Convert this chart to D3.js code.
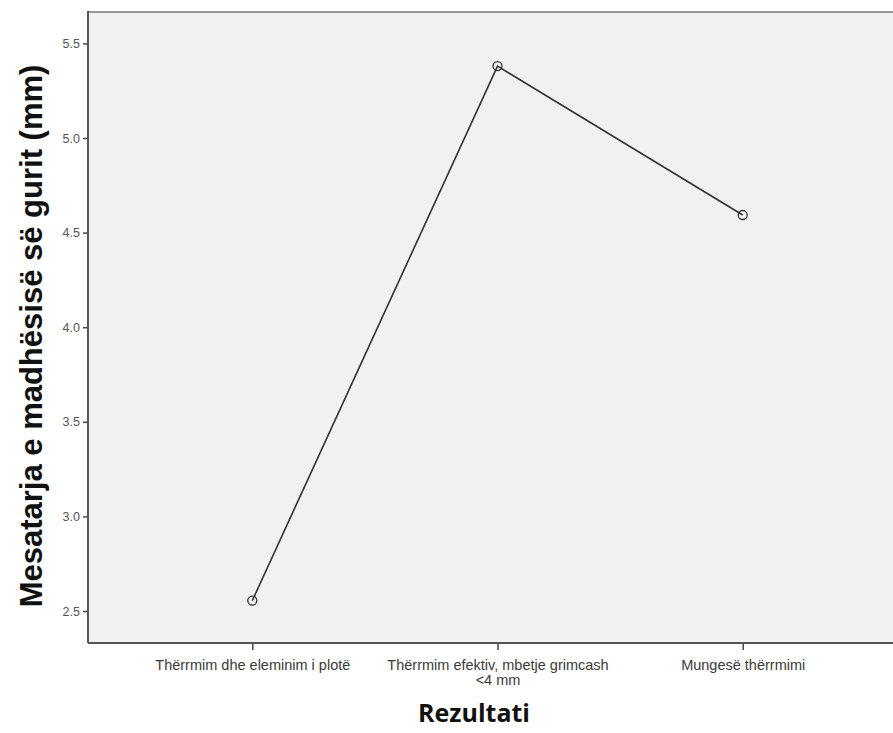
<!DOCTYPE html>
<html>
<head>
<meta charset="utf-8">
<script src="https://cdn.jsdelivr.net/npm/d3@7"></script>
<style>
  body { margin: 0; background: #fff; }
  svg { display: block; }
  .tick text { font-family: "Liberation Sans", Arial, sans-serif; }
</style>
</head>
<body>
<div id="chartContainer"></div>
<script>
const categories = [
    ['Thërrmim dhe eleminim i plotë'],
    ['Thërrmim efektiv, mbetje grimcash', '<4 mm'],
    ['Mungesë thërrmimi']
];
const meanValues = [2.555, 5.38, 4.593];
const yTicks = [2.5, 3.0, 3.5, 4.0, 4.5, 5.0, 5.5];

const svgWidth = 893;
const svgHeight = 733;
const plot = { left: 88, top: 12, right: 907, bottom: 643 };

const svg = d3.select('#chartContainer')
    .append('svg')
    .attr('width', svgWidth)
    .attr('height', svgHeight);

const labels = categories.map(d => d.join(' '));

const xScale = d3.scalePoint()
    .domain(labels)
    .range([plot.left, plot.right])
    .padding(0.67);

const yScale = d3.scaleLinear()
    .domain([2.331, 5.666])
    .range([plot.bottom, plot.top]);

// plot background
svg.append('rect')
    .attr('x', plot.left)
    .attr('y', plot.top)
    .attr('width', plot.right - plot.left)
    .attr('height', plot.bottom - plot.top)
    .attr('fill', '#f0f1f1');

// top border
svg.append('line')
    .attr('x1', plot.left).attr('x2', plot.right)
    .attr('y1', plot.top).attr('y2', plot.top)
    .attr('stroke', '#9a9a9a')
    .attr('stroke-width', 2);

const yAxis = d3.axisLeft(yScale)
    .tickValues(yTicks)
    .tickFormat(d3.format('.1f'))
    .tickSize(5)
    .tickPadding(3);

const yG = svg.append('g')
    .attr('transform', `translate(${plot.left}, 0)`)
    .call(yAxis);
yG.select('.domain').remove();
yG.selectAll('.tick line').attr('stroke', '#444').attr('stroke-width', 1.5);
yG.selectAll('.tick text').attr('fill', '#555').style('font-size', '12.5px');

const xAxis = d3.axisBottom(xScale)
    .tickSize(7)
    .tickFormat('');

const xG = svg.append('g')
    .attr('transform', `translate(0, ${plot.bottom})`)
    .call(xAxis);
xG.select('.domain').remove();
xG.selectAll('.tick line').attr('stroke', '#444').attr('stroke-width', 1.5);

// multi-line category labels
xG.selectAll('.tick').each(function (d, i) {
    const t = d3.select(this).append('text')
        .attr('fill', '#3a3a3a')
        .attr('text-anchor', 'middle')
        .style('font-size', '14.5px');
    categories[i].forEach((line, j) => {
        t.append('tspan')
            .attr('x', 0)
            .attr('y', 27 + j * 15)
            .text(line);
    });
});

// axis lines
svg.append('line')
    .attr('x1', plot.left).attr('x2', plot.left)
    .attr('y1', plot.top - 1).attr('y2', plot.bottom)
    .attr('stroke', '#555')
    .attr('stroke-width', 2);
svg.append('line')
    .attr('x1', plot.left).attr('x2', plot.right)
    .attr('y1', plot.bottom).attr('y2', plot.bottom)
    .attr('stroke', '#555')
    .attr('stroke-width', 2);

const data = labels.map((l, i) => ({ label: l, value: meanValues[i] }));

const line = d3.line()
    .x(d => xScale(d.label))
    .y(d => yScale(d.value));

svg.append('path')
    .datum(data)
    .attr('fill', 'none')
    .attr('stroke', '#333')
    .attr('stroke-width', 1.6)
    .attr('d', line);

svg.selectAll('.dot')
    .data(data)
    .enter()
    .append('circle')
    .attr('class', 'dot')
    .attr('cx', d => xScale(d.label))
    .attr('cy', d => yScale(d.value))
    .attr('r', 4.5)
    .attr('fill', 'none')
    .attr('stroke', '#333')
    .attr('stroke-width', 1.3);

svg.append('text')
    .attr('x', 474)
    .attr('y', 722)
    .attr('text-anchor', 'middle')
    .style('font-family', '"Open Sans", sans-serif')
    .style('font-weight', 'bold')
    .style('font-size', '25px')
    .attr('fill', '#111')
    .text('Rezultati');

svg.append('text')
    .attr('transform', 'rotate(-90)')
    .attr('x', -336)
    .attr('y', 42)
    .attr('text-anchor', 'middle')
    .style('font-family', '"Liberation Sans", Arial, sans-serif')
    .style('font-weight', 'bold')
    .style('font-size', '31px')
    .attr('fill', '#111')
    .text('Mesatarja e madhësisë së gurit (mm)');
</script>
</body>
</html>
